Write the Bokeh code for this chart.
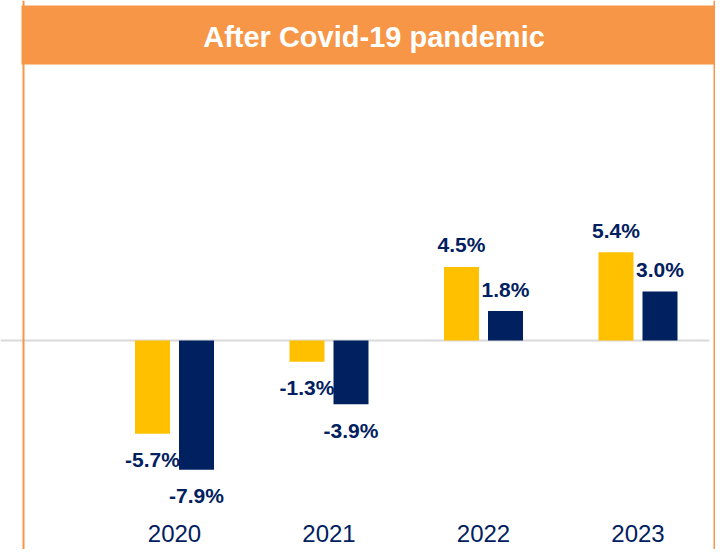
from bokeh.plotting import figure
from bokeh.models import Range1d, BoxAnnotation, Span, Label, ColumnDataSource
from bokeh.core.properties import value
from bokeh.embed import file_html
from bokeh.resources import INLINE

# ---- data ----
years = [2020, 2021, 2022, 2023]
year_labels = ["2020", "2021", "2022", "2023"]
series_yellow = [-5.7, -1.3, 4.5, 5.4]
series_navy = [-7.9, -3.9, 1.8, 3.0]
title_text = "After Covid-19 pandemic"

# ---- style ----
YELLOW = "#FFC000"
NAVY = "#002060"
ORANGE = "#F79646"
GRAY = "#D9D9D9"
FONT = "Liberation Sans"

# ---- layout (pixels inside the figure) ----
W, H = 715, 549
PX_PER_YEAR = 154.5
PX_PER_PCT = 16.35
X0_PX = 174   # pixel position of first category
Y0_PX = 340   # pixel position of zero line

x_start = years[0] - X0_PX / PX_PER_YEAR
x_end = x_start + W / PX_PER_YEAR
y_end = Y0_PX / PX_PER_PCT
y_start = -(H - Y0_PX) / PX_PER_PCT


def dx(px):
    return x_start + px / PX_PER_YEAR


def dy(px):
    return (Y0_PX - px) / PX_PER_PCT


offset = 22 / PX_PER_YEAR
bar_w = 35 / PX_PER_YEAR

p = figure(width=W, height=H,
           x_range=Range1d(x_start, x_end), y_range=Range1d(y_start, y_end),
           x_axis_type=None, y_axis_type=None,
           output_backend="svg", toolbar_location=None,
           min_border=0, outline_line_color=None,
           background_fill_color="white", border_fill_color="white")
p.grid.visible = False

# zero line
p.segment(x0=[x_start], x1=[dx(709)], y0=[0], y1=[0], line_color=GRAY, line_width=2)


def make_source(vals, shift):
    return ColumnDataSource(dict(
        x=[y + shift for y in years],
        v=vals,
        lbl=[f"{v:.1f}%" for v in vals],
        yoff=[-22 if v >= 0 else 26 for v in vals],
    ))


src_y = make_source(series_yellow, -offset)
src_n = make_source(series_navy, offset)

p.vbar(x="x", top="v", bottom=0, width=bar_w, source=src_y, fill_color=YELLOW, line_color=None)
p.vbar(x="x", top="v", bottom=0, width=bar_w, source=src_n, fill_color=NAVY, line_color=None)

for src in (src_y, src_n):
    p.text(x="x", y="v", text="lbl", y_offset="yoff", source=src,
           text_align="center", text_baseline="middle",
           text_font=value(FONT), text_font_style="bold", text_font_size="21px",
           text_color=NAVY)

# category labels
p.text(x=years, y=[dy(533)] * len(years), text=year_labels,
       text_align="center", text_baseline="middle",
       text_font=value(FONT), text_font_size="24px", text_color=NAVY)

# frame borders
p.add_layout(Span(location=dx(23), dimension="height", line_color=ORANGE, line_width=2))
p.add_layout(Span(location=dx(714), dimension="height", line_color=ORANGE, line_width=2))

# title bar
p.add_layout(BoxAnnotation(left=dx(21), right=x_end, bottom=dy(64), top=dy(5),
                           fill_color=ORANGE, fill_alpha=1.0, line_color=None))
p.add_layout(Label(x=dx(373.5), y=dy(36), text=title_text,
                   text_align="center", text_baseline="middle",
                   text_font=FONT, text_font_style="bold", text_font_size="29px",
                   text_color="white"))

open("out.html", "w").write(file_html(p, INLINE))
